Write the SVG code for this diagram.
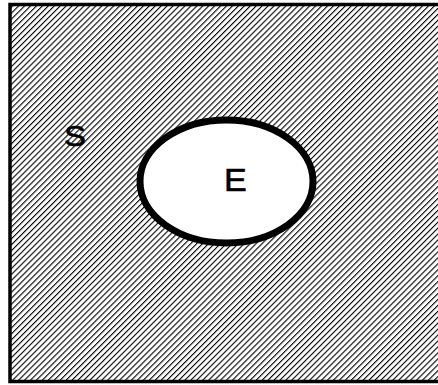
<svg xmlns="http://www.w3.org/2000/svg" width="438" height="385" viewBox="0 0 438 385">
<style>
.lbl{font-family:"Liberation Sans",Arial,sans-serif;fill:#000;stroke:#000;stroke-width:0.6;}
</style>
<defs>
<pattern id="hatch" patternUnits="userSpaceOnUse" width="4.2" height="10" patternTransform="rotate(45)">
<rect x="0" y="0" width="1.1" height="10" fill="#000"/>
</pattern>
</defs>
<rect x="0" y="0" width="438" height="385" fill="#fff"/>
<g id="S">
<rect x="10" y="4.5" width="432" height="377" fill="#fff"/>
<rect x="10" y="4.5" width="432" height="377" fill="url(#hatch)" stroke="#000" stroke-width="3.5"/>
<text class="lbl" x="64" y="146" font-size="30" transform="translate(64 146) scale(1.1 1) translate(-64 -146)">S</text>
</g>
<g id="E">
<ellipse cx="226.5" cy="181.5" rx="86.5" ry="61.5" fill="#fff" stroke="#000" stroke-width="7"/>
<text class="lbl" x="224" y="191" font-size="31" transform="translate(224 191) scale(1.1 1) translate(-224 -191)">E</text>
</g>
<g id="connectors"></g>
</svg>
